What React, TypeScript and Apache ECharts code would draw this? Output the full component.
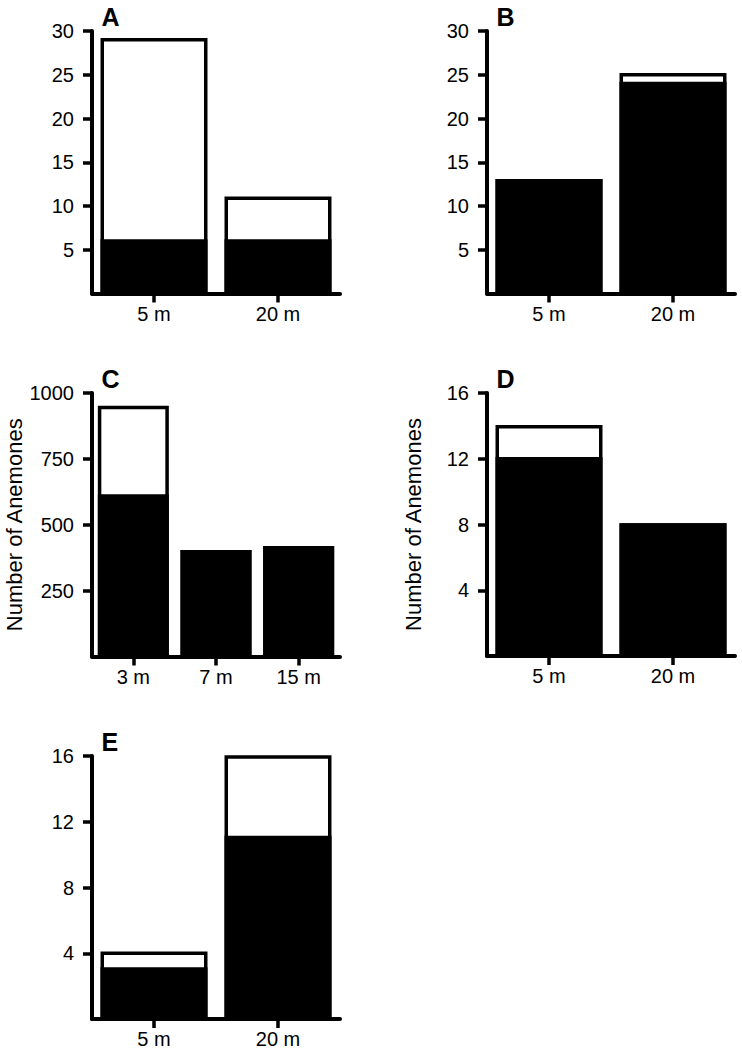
import React, { useEffect, useRef } from "react";
import * as echarts from "echarts";

const FONT = '"Liberation Sans", Arial, Helvetica, sans-serif';

// Panel A
const catsA = ["5 m", "20 m"];
const totalA = [29.2, 11.1];
const subA = [6.2, 6.2];
const ticksA = [5, 10, 15, 20, 25, 30];

// Panel B
const catsB = ["5 m", "20 m"];
const totalB = [13.1, 25.2];
const subB = [13.1, 24.2];
const ticksB = [5, 10, 15, 20, 25, 30];

// Panel C
const catsC = ["3 m", "7 m", "15 m"];
const totalC = [952, 404, 419];
const subC = [616, 404, 419];
const ticksC = [250, 500, 750, 1000];

// Panel D
const catsD = ["5 m", "20 m"];
const totalD = [14.05, 8.07];
const subD = [12.1, 8.07];
const ticksD = [4, 8, 12, 16];

// Panel E
const catsE = ["5 m", "20 m"];
const totalE = [4.1, 16.05];
const subE = [3.15, 11.15];
const ticksE = [4, 8, 12, 16];

const letters = ["A", "B", "C", "D", "E"];
const yTitle = "Number of Anemones";

type PanelDef = {
  left: number;
  top: number;
  height: number;
  cats: string[];
  total: number[];
  sub: number[];
  ticks: number[];
  max: number;
  interval: number;
  barWidth: number;
  title?: string;
};

const panels: PanelDef[] = [
  { left: 92, top: 31, height: 262.5, cats: catsA, total: totalA, sub: subA, ticks: ticksA, max: 30, interval: 5, barWidth: 107 },
  { left: 487, top: 31, height: 262.5, cats: catsB, total: totalB, sub: subB, ticks: ticksB, max: 30, interval: 5, barWidth: 107 },
  { left: 92, top: 393, height: 263.5, cats: catsC, total: totalC, sub: subC, ticks: ticksC, max: 1000, interval: 250, barWidth: 71, title: yTitle },
  { left: 487, top: 393, height: 263, cats: catsD, total: totalD, sub: subD, ticks: ticksD, max: 16, interval: 4, barWidth: 107, title: yTitle },
  { left: 92, top: 756, height: 263, cats: catsE, total: totalE, sub: subE, ticks: ticksE, max: 16, interval: 4, barWidth: 107 },
];

export default function App() {
  const ref = useRef<HTMLDivElement>(null);

  useEffect(() => {
    if (!ref.current) return;
    const chart = echarts.init(ref.current, undefined, { renderer: "svg" });

    const grid: any[] = [];
    const xAxis: any[] = [];
    const yAxis: any[] = [];
    const series: any[] = [];
    const graphic: any[] = [];

    panels.forEach((p, i) => {
      grid.push({ left: p.left, top: p.top, width: 248, height: p.height, containLabel: false });
      xAxis.push({
        gridIndex: i,
        type: "category",
        data: p.cats,
        axisLine: { show: true, lineStyle: { color: "#000", width: 4 } },
        axisTick: { show: true, alignWithLabel: true, length: 9, lineStyle: { color: "#000", width: 3.5 } },
        axisLabel: { color: "#000", fontSize: 20, fontFamily: FONT, margin: 10 },
        splitLine: { show: false },
      });
      yAxis.push({
        gridIndex: i,
        type: "value",
        min: 0,
        max: p.max,
        interval: p.interval,
        axisLine: { show: true, lineStyle: { color: "#000", width: 4 } },
        axisTick: { show: true, length: 9, customValues: p.ticks, lineStyle: { color: "#000", width: 3.5 } },
        axisLabel: {
          color: "#000",
          fontSize: 20,
          fontFamily: FONT,
          margin: 18,
          customValues: p.ticks,
          formatter: (v: number) => String(v),
        },
        splitLine: { show: false },
        name: p.title,
        nameLocation: "middle",
        nameGap: 63,
        nameTextStyle: { color: "#000", fontSize: 22, fontFamily: FONT },
      });
      series.push({
        type: "bar",
        xAxisIndex: i,
        yAxisIndex: i,
        data: p.total,
        barWidth: p.barWidth,
        barGap: "-100%",
        itemStyle: { color: "#fff", borderColor: "#000", borderWidth: 3.5 },
        silent: true,
      });
      series.push({
        type: "bar",
        xAxisIndex: i,
        yAxisIndex: i,
        data: p.sub,
        barWidth: p.barWidth,
        barGap: "-100%",
        itemStyle: { color: "#000", borderColor: "#000", borderWidth: 3.5 },
        silent: true,
      });
      graphic.push({
        type: "text",
        left: p.left + 9.5,
        top: p.top - 27,
        style: { text: letters[i], fill: "#000", font: `bold 25px ${FONT}` },
      });
    });

    chart.setOption({
      animation: false,
      backgroundColor: "#fff",
      grid,
      xAxis,
      yAxis,
      series,
      graphic,
    });

    return () => chart.dispose();
  }, []);

  return (
    <div
      ref={ref}
      style={{ position: "absolute", left: 0, top: 0, width: 742, height: 1056 }}
    />
  );
}
